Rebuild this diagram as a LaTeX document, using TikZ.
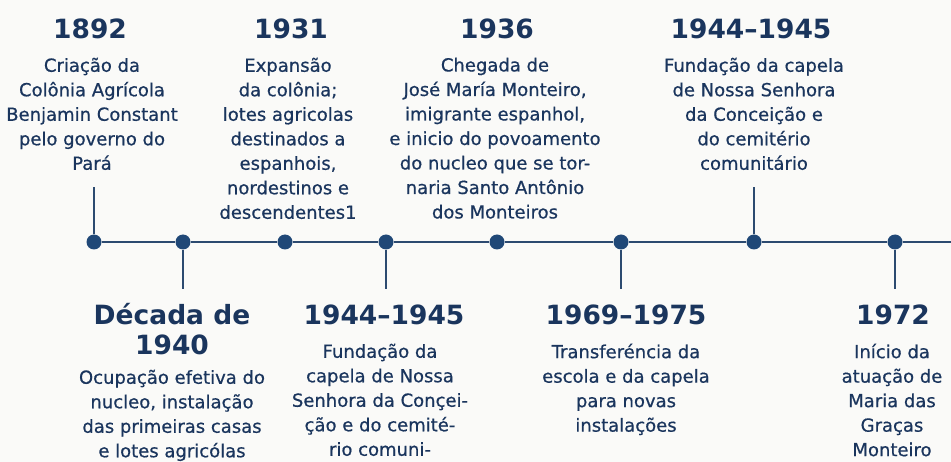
\documentclass[tikz,border=0pt]{standalone}
\usepackage{fontspec}
\setmainfont{DejaVu Sans}
\newfontfamily\descfont[FakeBold=0.6]{DejaVu Sans}
\usetikzlibrary{positioning}

\definecolor{navy}{HTML}{1A355D}
\definecolor{inkline}{HTML}{2C4A70}
\definecolor{dotblue}{HTML}{204877}
\definecolor{paper}{HTML}{FAFAF8}

\begin{document}
\begin{tikzpicture}[
 x=1pt, y=-1pt,
 node distance=18pt,
 year/.style={font=\fontsize{26.5}{30}\selectfont\bfseries, text=navy, inner sep=0pt, align=center, anchor=base},
 desc/.style={font=\descfont\fontsize{18}{24.5}\selectfont, text=navy, inner sep=0pt, align=center, execute at begin node=\strut},
 event/.style={circle, fill=dotblue, inner sep=0pt, minimum size=15pt},
 stem/.style={-, draw=inkline, line width=1.8pt},
 ]

  % Canvas
  \fill[paper] (0,0) rectangle (951,462);
  \useasboundingbox (0,0) rectangle (951,462);

  % Events on the axis
  \node[event] (d1892) at (94,242) {};
  \node[event] (d1940) at (183,242) {};
  \node[event] (d1931) at (285,242) {};
  \node[event] (d1944b) at (386,242) {};
  \node[event] (d1936) at (497,242) {};
  \node[event] (d1969) at (621,242) {};
  \node[event] (d1944t) at (754,242) {};
  \node[event] (d1972) at (895,242) {};
  \coordinate (axisend) at (951,242);

  % Axis
  \draw[stem] (d1892) -- (d1940);
  \draw[stem] (d1940) -- (d1931);
  \draw[stem] (d1931) -- (d1944b);
  \draw[stem] (d1944b) -- (d1936);
  \draw[stem] (d1936) -- (d1969);
  \draw[stem] (d1969) -- (d1944t);
  \draw[stem] (d1944t) -- (d1972);
  \draw[stem] (d1972) -- (axisend);

  % Stems
  \coordinate (s1892) at (94,187);
  \coordinate (s1944t) at (754,187);
  \coordinate (s1940) at (183,289);
  \coordinate (s1944b) at (386,289);
  \coordinate (s1969) at (621,289);
  \coordinate (s1972) at (895,289);
  \draw[stem] (d1892) -- (s1892);
  \draw[stem] (d1944t) -- (s1944t);
  \draw[stem] (d1940) -- (s1940);
  \draw[stem] (d1944b) -- (s1944b);
  \draw[stem] (d1969) -- (s1969);
  \draw[stem] (d1972) -- (s1972);

  % Upper labels
  \node[year] (y1892) at (90,39) {1892};
  \node[desc, below=of y1892, xshift=2pt] (t1892) {Criação da\\Colônia Agrícola\\Benjamin Constant\\pelo governo do\\Pará};

  \node[year] (y1931) at (291,39) {1931};
  \node[desc, below=of y1931, xshift=-3pt] (t1931) {Expansão\\da colônia;\\lotes agricolas\\destinados a\\espanhois,\\nordestinos e\\descendentes1};

  \node[year] (y1936) at (497,39) {1936};
  \node[desc, below=of y1936, xshift=-2pt] (t1936) {Chegada de\\José María Monteiro,\\imigrante espanhol,\\e inicio do povoamento\\do nucleo que se tor-\\naria Santo Antônio\\dos Monteiros};

  \node[year] (y1944t) at (751,39) {1944–1945};
  \node[desc, below=of y1944t, xshift=3pt] (t1944t) {Fundação da capela\\de Nossa Senhora\\da Conceição e\\do cemitério\\comunitário};

  % Lower labels
  \node[year] (y1940) at (172,355) {Década de\\1940};
  \node[desc, below=14pt of y1940] (t1940) {Ocupação efetiva do\\nucleo, instalação\\das primeiras casas\\e lotes agricólas};

  \node[year] (y1944b) at (384,325) {1944–1945};
  \node[desc, below=of y1944b, xshift=-4pt] (t1944b) {Fundação da\\capela de Nossa\\Senhora da Conçei-\\ção e do cemité-\\rio comuni-};

  \node[year] (y1969) at (626,325) {1969–1975};
  \node[desc, below=of y1969] (t1969) {Transferéncia da\\escola e da capela\\para novas\\instalações};

  \node[year] (y1972) at (893,325) {1972};
  \node[desc, below=of y1972, xshift=-1pt] (t1972) {Início da\\atuação de\\Maria das\\Graças\\Monteiro};

\end{tikzpicture}
\end{document}
